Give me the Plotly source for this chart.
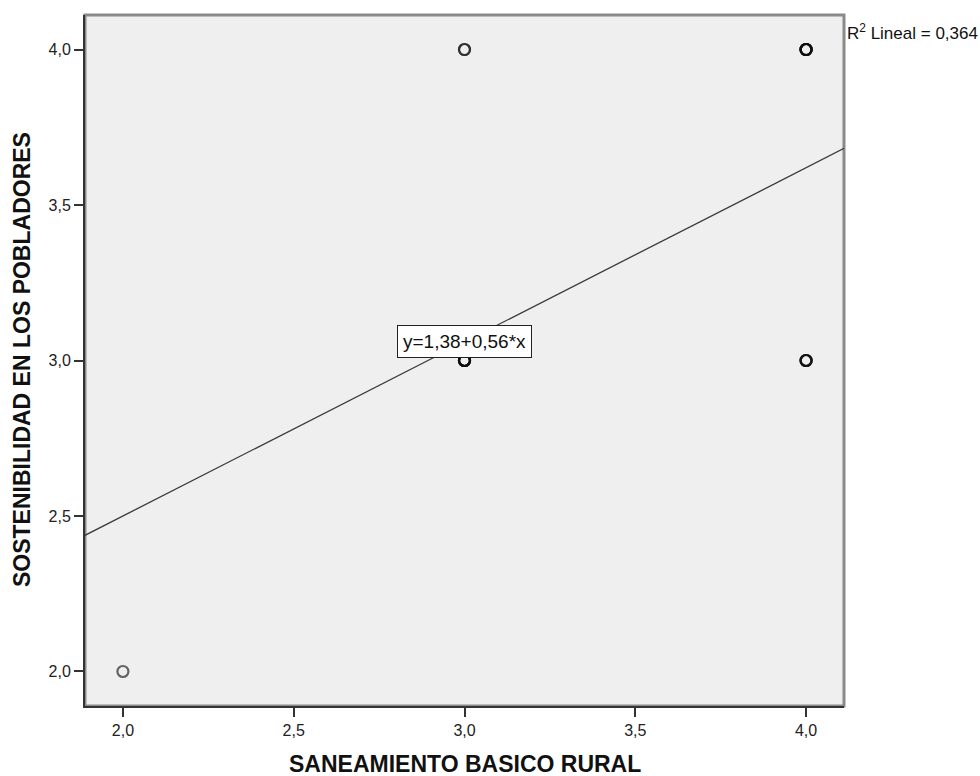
import plotly.graph_objects as go

# Observations (one entry per case)
saneamiento = [2, 3, 3, 3, 3, 3, 3, 3, 3, 4, 4, 4, 4, 4, 4, 4, 4, 4, 4]
sostenibilidad = [2, 3, 3, 3, 3, 3, 3, 4, 4, 3, 3, 3, 3, 4, 4, 4, 4, 4, 4]

# Linear fit reported on the chart
intercept = 1.38
slope = 0.56
r2 = 0.364

x_range = [1.889, 4.111]
y_range = [1.889, 4.111]
tick_vals = [2.0, 2.5, 3.0, 3.5, 4.0]

W, H = 980, 776
L, R, T, B = 85, 136, 15, 70
FONT = "Liberation Sans, Arial, sans-serif"


def px_to_paper(px, py):
    return (px - L) / (W - L - R), (H - B - py) / (H - T - B)


fit_x = x_range
fit_y = [intercept + slope * v for v in fit_x]

fig = go.Figure()

fig.add_trace(go.Scatter(
    x=fit_x, y=fit_y, mode="lines",
    line=dict(color="#3a3a3a", width=1.3),
    hoverinfo="skip", showlegend=False,
))

fig.add_trace(go.Scatter(
    x=saneamiento, y=sostenibilidad, mode="markers",
    marker=dict(symbol="circle-open", size=11,
                color="rgba(15,15,15,0.62)", line=dict(width=2.2)),
    showlegend=False,
))

axis_common = dict(
    showgrid=False, zeroline=False, showline=True,
    linecolor="#333333", linewidth=2,
    ticks="outside", ticklen=9, tickwidth=2, tickcolor="#333333",
    tickvals=tick_vals, tickformat=".1f",
    tickfont=dict(family=FONT, size=16, color="#222222"),
)

fig.update_xaxes(range=x_range, **axis_common)
fig.update_yaxes(range=y_range, **axis_common)

xt_x, xt_y = px_to_paper(465, 764)
yt_x, yt_y = px_to_paper(22, 360)
r2_x, r2_y = px_to_paper(845, 32)

fig.update_layout(
    width=W, height=H,
    margin=dict(l=L, r=R, t=T, b=B),
    paper_bgcolor="white",
    plot_bgcolor="#efefef",
    separators=",.",
    shapes=[dict(type="rect", xref="paper", yref="paper", x0=0, y0=0, x1=1, y1=1,
                 line=dict(color="#8a8a8a", width=3), layer="below")],
    annotations=[
        dict(text="<b>SANEAMIENTO BASICO RURAL</b>", xref="paper", yref="paper",
             x=xt_x, y=xt_y, showarrow=False, xanchor="center", yanchor="middle",
             font=dict(family=FONT, size=23, color="#111111")),
        dict(text="<b>SOSTENIBILIDAD EN LOS POBLADORES</b>", xref="paper", yref="paper",
             x=yt_x, y=yt_y, showarrow=False, textangle=-90,
             xanchor="center", yanchor="middle",
             font=dict(family=FONT, size=23, color="#111111")),
        dict(text="R<sup>2</sup> Lineal = " + f"{r2:.3f}".replace(".", ","),
             xref="paper", yref="paper", x=r2_x, y=r2_y, showarrow=False,
             xanchor="left", yanchor="middle",
             font=dict(family=FONT, size=17, color="#111111")),
        dict(text=f"y={intercept:.2f}+{slope:.2f}*x".replace(".", ","),
             x=3.0, y=3.061, xref="x", yref="y", showarrow=False,
             xanchor="center", yanchor="middle",
             bgcolor="white", bordercolor="#222222", borderwidth=1, borderpad=5,
             font=dict(family=FONT, size=19, color="#111111")),
    ],
)

fig.write_html("out.html")
